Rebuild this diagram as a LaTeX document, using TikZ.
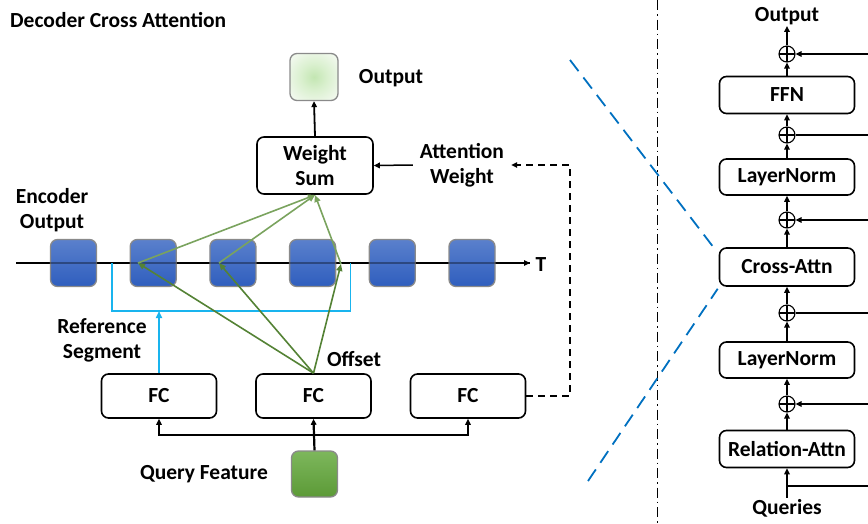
\documentclass[tikz,border=0pt]{standalone}
\usepackage{fontspec}
\setmainfont{Carlito}
\usetikzlibrary{arrows.meta}

\definecolor{encTop}{HTML}{5A80CC}
\definecolor{encBot}{HTML}{2F5EBE}
\definecolor{qfTop}{HTML}{7DB75C}
\definecolor{qfBot}{HTML}{5C9A37}
\definecolor{outIn}{HTML}{C3E6B2}
\definecolor{outMid}{HTML}{DAF0CF}
\definecolor{outOut}{HTML}{F0F8EC}
\definecolor{edgeGray}{HTML}{8A8A8A}
\definecolor{greenUp}{HTML}{7AA35E}
\definecolor{greenLow}{HTML}{548235}
\definecolor{refCyan}{HTML}{19B4EE}
\definecolor{zoomBlue}{HTML}{0070C0}

% soft green glow for the output feature
\pgfdeclareradialshading{outglow}{\pgfpoint{0bp}{0bp}}{%
  color(0bp)=(outIn); color(14bp)=(outMid); color(30bp)=(outOut); color(50bp)=(outOut)}

\begin{document}
\begin{tikzpicture}[x=1pt,y=-1pt,
  font=\bfseries\fontsize{21.5}{25}\selectfont,
  box/.style={draw, line width=1.6pt, rounded corners=7pt, align=center, inner sep=0pt},
  encsq/.style={draw=edgeGray, line width=1.3pt, rounded corners=7pt,
    top color=encTop, bottom color=encBot, minimum width=46pt, minimum height=47pt, inner sep=0pt},
  arr/.style={-{Triangle[length=6pt,width=5.5pt]}, line width=1.5pt},
  garr/.style={-{Triangle[length=7pt,width=6pt]}, line width=1.6pt},
  plus/.style={circle, draw, line width=1.1pt, minimum size=16pt, inner sep=0pt,
    path picture={\draw[line width=1.1pt] (path picture bounding box.north) -- (path picture bounding box.south)
      (path picture bounding box.west) -- (path picture bounding box.east);}},
  lbl/.style={align=center, inner sep=1pt}
]
\useasboundingbox (0,0) rectangle (868,523);

% ---------------- cross attention block ----------------
\node[lbl, anchor=west] (title) at (9,20) {Decoder Cross Attention};

\node[draw=edgeGray, line width=1.3pt, rounded corners=7pt, shading=outglow,
  minimum width=48pt, minimum height=47pt, inner sep=0pt] (out) at (314,77) {};
\node[lbl] (outlbl) at (391,78) {Output};

\node[box, minimum width=116pt, minimum height=57pt] (ws) at (315,165.5) {Weight\\Sum};
\node[lbl] (attw) at (462,165) {Attention\\Weight};

\node[lbl] (enclbl) at (52,210) {Encoder\\Output};

% time axis with encoder features
\coordinate (tstart) at (16,263);
\coordinate (tend) at (530,263);
\draw[line width=1.6pt] (tstart) -- (tend);
\foreach \i/\x in {1/73.5,2/153.2,3/232.9,4/312.6,5/392.3,6/472}
  \node[encsq] (s\i) at (\x,263) {};
\draw[line width=1.6pt, opacity=0.35] (s1.west) -- (s6.east);
\draw[arr, line width=1.6pt] (s6.east) -- (tend);
\node[lbl] (tlbl) at (541,265) {T};

% FC layers and query
\foreach \n/\x in {fc1/159,fc2/313.5,fc3/468}
  \node[box, minimum width=115pt, minimum height=44pt] (\n) at (\x,396) {FC};
\node[draw=edgeGray, line width=1.3pt, rounded corners=7pt, top color=qfTop, bottom color=qfBot,
  minimum width=46pt, minimum height=46pt, inner sep=0pt] (qf) at (314.5,474) {};
\node[lbl] (qflbl) at (204,474) {Query Feature};
\node[lbl] (offlbl) at (354,359) {Offset};
\node[lbl] (reflbl) at (102,340) {Reference\\Segment};

% query feature to the three FC layers
\coordinate (split) at (313.5,435);
\draw[arr, line width=2.2pt] (qf.north) -- (fc2.south);
\draw[arr] (split) -| (fc1.south);
\draw[arr] (split) -| (fc3.south);

% reference segment bracket
\coordinate (rl) at (112,263);
\coordinate (rbl) at (112,311);
\coordinate (rbr) at (350.5,311);
\coordinate (rr) at (350.5,263);
\coordinate (rin) at (159,311);
\draw[refCyan, line width=1.8pt] (rl) -- (rbl) -- (rbr) -- (rr);
\draw[garr, refCyan] (fc1.north) -- (rin);

% sampling points and offsets
\coordinate (p1) at (138,263);
\coordinate (p2) at (219,263);
\coordinate (p3) at (341,264);
\coordinate (wsin) at (315,195);
\foreach \p in {p1,p2,p3} {
  \draw[garr, greenLow] (fc2.north) -- (\p);
  \draw[garr, greenUp] (\p) -- (wsin);
}

% weights and output
\draw[arr, line width=1.8pt] (ws.north) -- (out.south);
\draw[arr] ([xshift=-6pt]attw.west) -- (ws.east);
\coordinate (dturn1) at (570,396);
\coordinate (dturn2) at (570,165);
\draw[arr, dash pattern=on 7pt off 5pt] (fc3.east) -- (dturn1) -- (dturn2) -- ([xshift=6pt]attw.east);

% ---------------- divider and zoom lines ----------------
\coordinate (dtop) at (657.7,0);
\coordinate (dbot) at (657.7,523);
\draw[line width=1.4pt, dash pattern=on 10pt off 4pt on 1.5pt off 4pt] (dtop) -- (dbot);

\coordinate (z1a) at (570,60);
\coordinate (z2a) at (588,481);

% ---------------- decoder layer ----------------
\node[box, minimum width=135pt, minimum height=37pt] (ffn) at (787,95) {FFN};
\node[box, minimum width=135pt, minimum height=36pt] (ln1) at (787,177) {LayerNorm};
\node[box, minimum width=135pt, minimum height=38pt] (ca) at (787,267) {Cross-Attn};
\node[box, minimum width=135pt, minimum height=36pt] (ln2) at (787,360) {LayerNorm};
\node[box, minimum width=135pt, minimum height=37pt] (ra) at (787,449) {Relation-Attn};
\node[lbl] (dout) at (787,16) {Output};
\node[lbl] (queries) at (787,508) {Queries};

\draw[zoomBlue, line width=1.8pt, dash pattern=on 14pt off 8pt] (z1a) -- ([shift={(-3pt,-3pt)}]ca.north west);
\draw[zoomBlue, line width=1.8pt, dash pattern=on 14pt off 8pt] (z2a) -- ([shift={(-1pt,-2pt)}]ca.south west);

\foreach \n/\y in {c1/54,c2/135,c3/220,c4/313,c5/404}
  \node[plus] (\n) at (787,\y) {};

\draw[arr] (queries.north) -- (ra.south);
\draw[arr] (ra.north) -- (c5.south);
\draw[arr] (c5.north) -- (ln2.south);
\draw[arr] (ln2.north) -- (c4.south);
\draw[arr] (c4.north) -- (ca.south);
\draw[arr] (ca.north) -- (c3.south);
\draw[arr] (c3.north) -- (ln1.south);
\draw[arr] (ln1.north) -- (c2.south);
\draw[arr] (c2.north) -- (ffn.south);
\draw[arr] (ffn.north) -- (c1.south);
\draw[arr] (c1.north) -- (dout.south);

% residual and embedding inputs from the right
\coordinate (r1) at (868,54);
\coordinate (r2) at (868,135);
\coordinate (r3) at (868,220);
\coordinate (r4) at (868,313);
\coordinate (r5) at (868,404);
\coordinate (qb) at (787,486);
\coordinate (r6) at (868,486);
\draw[arr] (r1) -- (c1.east);
\draw[line width=1.5pt] (r2) -- (c2.east);
\draw[arr] (r3) -- (c3.east);
\draw[line width=1.5pt] (r4) -- (c4.east);
\draw[arr] (r5) -- (c5.east);
\draw[line width=1.5pt] (qb) -- (r6);
\end{tikzpicture}
\end{document}
